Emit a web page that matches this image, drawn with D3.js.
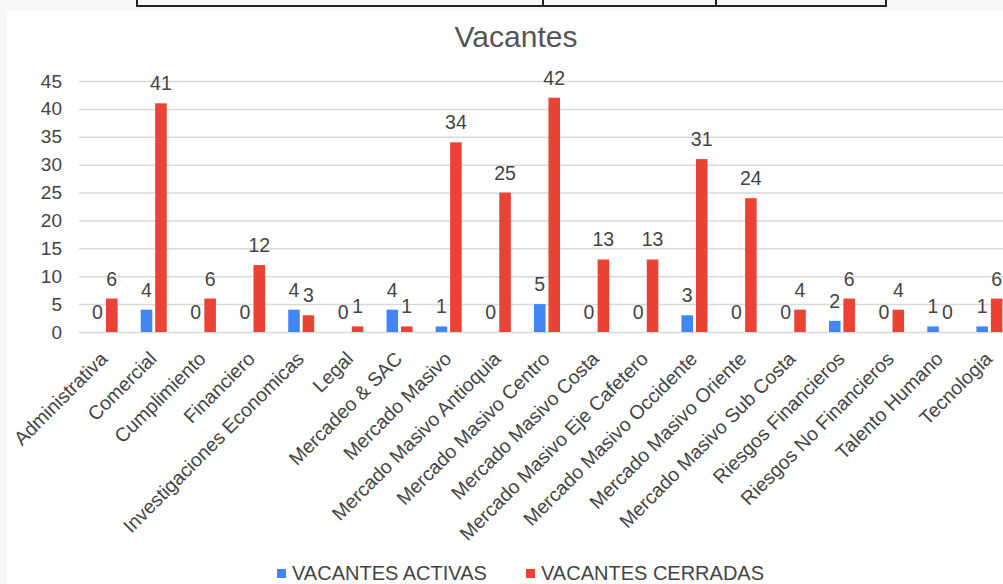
<!DOCTYPE html>
<html>
<head>
<meta charset="utf-8">
<script src="https://cdn.jsdelivr.net/npm/d3@7"></script>
<style>
  body { margin: 0; background: #f7f7f7; }
  svg { display: block; font-family: 'Liberation Sans', Arial, sans-serif; }
</style>
</head>
<body>
<div class="canvas"></div>
<script>
'use strict';

// Data
var categories = ['Administrativa', 'Comercial', 'Cumplimiento', 'Financiero', 'Investigaciones Economicas',
  'Legal', 'Mercadeo & SAC', 'Mercado Masivo', 'Mercado Masivo Antioquia', 'Mercado Masivo Centro',
  'Mercado Masivo Costa', 'Mercado Masivo Eje Cafetero', 'Mercado Masivo Occidente', 'Mercado Masivo Oriente',
  'Mercado Masivo Sub Costa', 'Riesgos Financieros', 'Riesgos No Financieros', 'Talento Humano', 'Tecnologia'];
var activas = [0, 4, 0, 0, 4, 0, 4, 1, 0, 5, 0, 0, 3, 0, 0, 2, 0, 1, 1];
var cerradas = [6, 41, 6, 12, 3, 1, 1, 34, 25, 42, 13, 13, 31, 24, 4, 6, 4, 0, 6];
var seriesNames = ['VACANTES ACTIVAS', 'VACANTES CERRADAS'];
var yTicks = [0, 5, 10, 15, 20, 25, 30, 35, 40, 45];

var colors = ['#4285f4', '#ea4335'];
var textColor = '#444';

var width = 1003;
var height = 584;

var svg = d3.select('.canvas').append('svg').attr('width', width).attr('height', height);

// White chart card over the grey page, with the bottom edge of a table above it
svg.append('rect').attr('x', 7).attr('y', 11).attr('width', width - 7).attr('height', height - 11).attr('fill', '#fff');
var table = svg.append('g').attr('stroke', '#222').attr('stroke-width', 2).attr('fill', 'none');
table.append('path').attr('d', 'M137,0 V6 H886 V0');
[543, 716].forEach(function (x) {
  table.append('line').attr('x1', x).attr('x2', x).attr('y1', 0).attr('y2', 6);
});

// Title
svg.append('text').attr('x', 516).attr('y', 47).attr('text-anchor', 'middle')
  .attr('font-size', 30).attr('fill', '#555').text('Vacantes');

// Scales
var plotLeft = 79;
var y = d3.scaleLinear().domain([0, 45]).range([332, 81]);
var x0 = d3.scaleBand().domain(categories).range([80, 1014]);
var x1 = d3.scaleBand().domain(seriesNames).range([0, 26]).paddingInner(0.2);

// Y axis with gridlines
var yAxisGroup = svg.append('g').attr('transform', 'translate(' + plotLeft + ', 0)');
yAxisGroup.call(d3.axisLeft(y).tickValues(yTicks).tickSize(-(width - plotLeft)).tickPadding(17));
yAxisGroup.select('.domain').remove();
yAxisGroup.selectAll('line').attr('stroke', '#d9d9d9').attr('stroke-width', 1.5);
yAxisGroup.selectAll('text').attr('font-size', 19).attr('fill', textColor).attr('font-family', null);

// X axis labels, rotated
var xAxisGroup = svg.append('g').attr('transform', 'translate(0, ' + y(0) + ')');
xAxisGroup.call(d3.axisBottom(x0).tickSize(0));
xAxisGroup.select('.domain').remove();
xAxisGroup.selectAll('text')
  .attr('x', 0).attr('y', 0).attr('dy', null)
  .attr('transform', 'translate(4, 28) rotate(-45)')
  .attr('text-anchor', 'end')
  .attr('font-size', 19.5).attr('fill', textColor).attr('font-family', null);

// Bars
var rows = categories.map(function (c, i) {
  return { category: c, values: [activas[i], cerradas[i]] };
});

var groups = svg.selectAll('g.cat').data(rows).enter().append('g').attr('class', 'cat')
  .attr('transform', function (d) {
    return 'translate(' + (x0(d.category) + x0.bandwidth() / 2 - 13) + ', 0)';
  });

var cells = groups.selectAll('g.cell').data(function (d) {
  return d.values.map(function (v, j) { return { series: seriesNames[j], value: v, idx: j }; });
}).enter().append('g').attr('class', 'cell');

cells.append('rect')
  .attr('x', function (d) { return x1(d.series); })
  .attr('y', function (d) { return y(d.value); })
  .attr('width', x1.bandwidth())
  .attr('height', function (d) { return y(0) - y(d.value); })
  .attr('fill', function (d) { return colors[d.idx]; });

cells.append('text')
  .attr('x', function (d) { return x1(d.series) + x1.bandwidth() / 2; })
  .attr('y', function (d) { return y(d.value) - 13; })
  .attr('text-anchor', 'middle')
  .attr('font-size', 19.5).attr('fill', textColor)
  .text(function (d) { return d.value; });

// Legend
var legendX = [277, 526];
var legend = svg.selectAll('g.legend').data(seriesNames).enter().append('g').attr('class', 'legend')
  .attr('transform', function (d, i) { return 'translate(' + legendX[i] + ', 569)'; });
legend.append('rect').attr('width', 9).attr('height', 9).attr('fill', function (d, i) { return colors[i]; });
legend.append('text').attr('x', 15).attr('y', 11).attr('font-size', 20).attr('fill', textColor)
  .text(function (d) { return d; });
</script>
</body>
</html>
